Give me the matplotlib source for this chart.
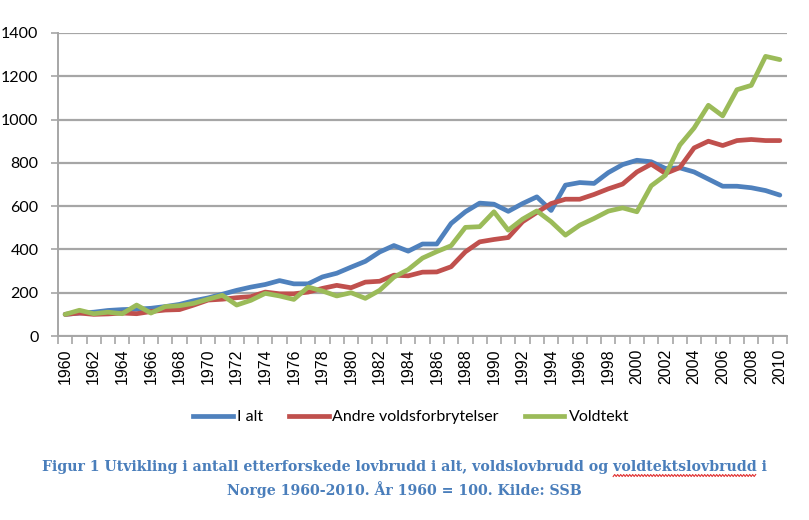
import numpy as np
import matplotlib
matplotlib.use("Agg")
import matplotlib.pyplot as plt
from matplotlib.lines import Line2D

# Data (index, 1960 = 100)
years = list(range(1960, 2011))
i_alt = [100, 106, 110, 118, 122, 124, 128, 136, 146, 163,
         176, 193, 211, 226, 238, 256, 241, 241, 273, 290,
         318, 345, 388, 418, 392, 425, 425, 520, 574, 614,
         609, 576, 612, 643, 580, 697, 709, 705, 755, 792,
         812, 805, 774, 777, 758, 725, 692, 692, 685, 672,
         651]
andre_vold = [100, 106, 100, 102, 106, 103, 113, 120, 122, 143,
              166, 170, 177, 182, 203, 195, 195, 203, 220, 234,
              223, 249, 253, 281, 278, 295, 296, 320, 389, 435,
              446, 455, 528, 571, 612, 632, 632, 654, 680, 702,
              758, 794, 751, 778, 869, 900, 880, 903, 908, 903,
              903]
voldtekt = [100, 119, 103, 110, 103, 143, 106, 136, 140, 151,
            170, 188, 143, 165, 197, 185, 169, 226, 208, 185,
            200, 174, 211, 272, 307, 360, 390, 417, 502, 505,
            574, 489, 540, 578, 528, 466, 512, 543, 577, 592,
            574, 694, 743, 882, 961, 1066, 1017, 1138, 1158, 1292,
            1277]

series_names = ["I alt", "Andre voldsforbrytelser", "Voldtekt"]
colors = ["#4F81BD", "#C0504D", "#9BBB59"]
y_ticks = list(range(0, 1401, 200))

caption_1 = ("Figur 1 Utvikling i antall etterforskede lovbrudd i alt, "
             "voldslovbrudd og ")
caption_word = "voldtektslovbrudd"
caption_end = " i"
caption_2 = "Norge 1960-2010. År 1960 = 100. Kilde: SSB"

plt.rcParams["font.family"] = ["Lato", "DejaVu Sans"]

fig = plt.figure(figsize=(8.09, 5.20), dpi=100)
ax = fig.add_axes([58 / 809, 1 - 336 / 520, (787 - 58) / 809, (336 - 33) / 520])

for vals, name, col in zip([i_alt, andre_vold, voldtekt], series_names, colors):
    ax.plot(years, vals, color=col, lw=3.4, label=name,
            solid_joinstyle="round", solid_capstyle="round", zorder=3)

ax.set_xlim(1959.5, 2010.5)
ax.set_ylim(0, 1400)

# y axis
ax.set_yticks(y_ticks)
ax.set_yticklabels([str(v) for v in y_ticks], fontsize=11.5)
ax.yaxis.grid(True, color="#a6a6a6", lw=1.6, zorder=0)
ax.tick_params(axis="y", length=5, width=1.2, color="#a6a6a6", pad=9)

# x axis: labels on even years, tick marks between categories
ax.set_xticks(years[::2])
ax.set_xticklabels([str(y) for y in years[::2]], rotation=90, fontsize=11.5,
                   family=["Liberation Sans"])
ax.set_xticks(np.arange(1959.5, 2011, 1.0), minor=True)
ax.tick_params(axis="x", which="major", length=0, pad=9)
ax.tick_params(axis="x", which="minor", length=6, width=1.2, color="#a6a6a6")

for side in ["top", "right"]:
    ax.spines[side].set_visible(False)
for side in ["left", "bottom"]:
    ax.spines[side].set_color("#a6a6a6")
    ax.spines[side].set_linewidth(1.4)

handles = [Line2D([0], [0], color=c, lw=3.4) for c in colors]
fig.legend(handles, series_names, loc="center", ncol=3, frameon=False,
           fontsize=11.5, bbox_to_anchor=(0.508, 1 - 417 / 520),
           handlelength=2.5, handletextpad=0.25, columnspacing=1.6)

# caption, drawn in pieces so the spell-check squiggle can sit under one word
cap_kw = dict(fontsize=10.2, fontweight="bold", color="#4A7EBB",
              family=["DejaVu Serif"])
fig.canvas.draw()
renderer = fig.canvas.get_renderer()
t_all = fig.text(0, 0, caption_1 + caption_word + caption_end, **cap_kw)
t_pre = fig.text(0, 0, caption_1.rstrip() + "|", **cap_kw)
t_bar = fig.text(0, 0, "|", **cap_kw)
t_word = fig.text(0, 0, caption_word, **cap_kw)
w_all = t_all.get_window_extent(renderer).width
w_pre = t_pre.get_window_extent(renderer).width - t_bar.get_window_extent(renderer).width
w_space = fig.text(0, 0, "a a", **cap_kw).get_window_extent(renderer).width - \
    fig.text(0, 0, "aa", **cap_kw).get_window_extent(renderer).width
w_word = t_word.get_window_extent(renderer).width
for t in list(fig.texts):
    t.remove()

y1 = 1 - 467 / 520
fig.text(0.5, y1, caption_1 + caption_word + caption_end, ha="center", va="center", **cap_kw)
fig.text(0.5, 1 - 490 / 520, caption_2, ha="center", va="center", **cap_kw)

x0_px = 809 * 0.5 - w_all / 2 + w_pre + w_space
xs = np.arange(x0_px, x0_px + w_word, 1.5)
ys = (520 * y1 - 8.5) + 1.0 * ((np.arange(len(xs)) % 2) * 2 - 1)
fig.add_artist(Line2D(xs / 809, ys / 520, color="#E03030", lw=0.8))

fig.savefig("out.png", dpi=100)
